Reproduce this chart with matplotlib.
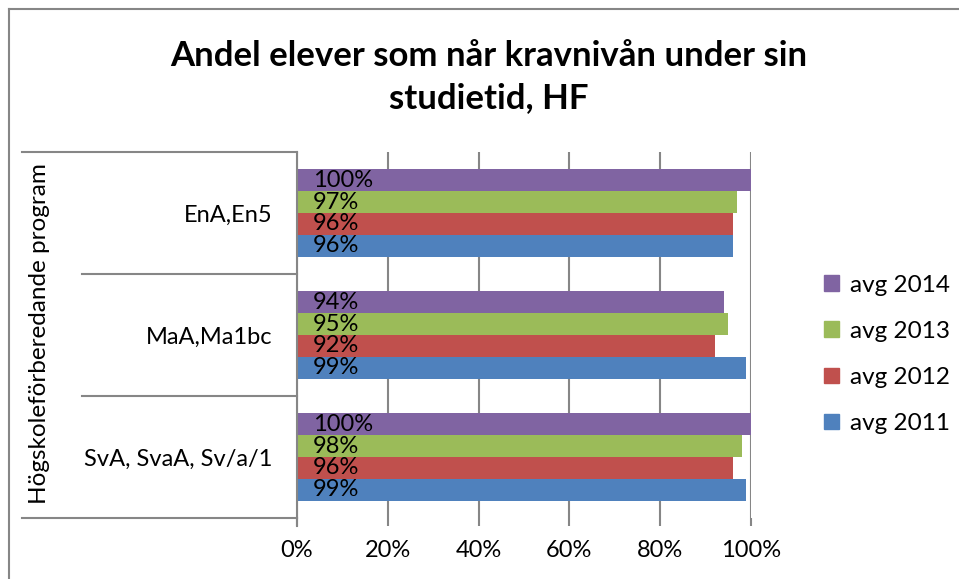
import numpy as np
import matplotlib
matplotlib.use("Agg")
import matplotlib.pyplot as plt
from matplotlib.patches import Patch
from matplotlib.lines import Line2D
import matplotlib.transforms as mtrans

plt.rcParams['font.family'] = ['Lato', 'DejaVu Sans']

# data (bottom to top as drawn)
categories = ["SvA, SvaA, Sv/a/1", "MaA,Ma1bc", "EnA,En5"]
group_label = "Högskoleförberedande program"
series = ["avg 2011", "avg 2012", "avg 2013", "avg 2014"]
avg_2011 = [0.99, 0.99, 0.96]
avg_2012 = [0.96, 0.92, 0.96]
avg_2013 = [0.98, 0.95, 0.97]
avg_2014 = [1.00, 0.94, 1.00]
colors = ["#4F81BD", "#C0504D", "#9BBB59", "#8064A2"]
xticks = [0, 0.2, 0.4, 0.6, 0.8, 1.0]
xticklabels = ["0%", "20%", "40%", "60%", "80%", "100%"]

W, H = 959, 579
fig = plt.figure(figsize=(W / 100, H / 100), dpi=100)

# plot area in pixels
x0, x1, ytop, ybot = 297, 751, 152, 518
ax = fig.add_axes([x0 / W, (H - ybot) / H, (x1 - x0) / W, (ybot - ytop) / H])

grid_c = "#868686"
fs = 17
h = 0.18
y = np.arange(len(categories))
vals = [avg_2011, avg_2012, avg_2013, avg_2014]
for i, (v, c) in enumerate(zip(vals, colors)):
    pos = y + (i - 1.5) * h
    ax.barh(pos, v, height=h, color=c, zorder=2)
    for p, val in zip(pos, v):
        ax.text(0.035, p, f"{val:.0%}", va="center", ha="left",
                fontsize=fs, color="black", zorder=3)

ax.set_xlim(0, 1)
ax.set_ylim(-0.5, 2.5)
ax.set_xticks(xticks)
ax.set_xticklabels(xticklabels, fontsize=fs)
ax.set_yticks(y)
ax.set_yticklabels(categories, fontsize=fs)
ax.tick_params(axis="y", length=0, pad=18)
ax.tick_params(axis="x", direction="out", length=6, color=grid_c, width=1.5, pad=10)
ax.grid(axis="x", color=grid_c, linewidth=1.5, zorder=0)
ax.set_axisbelow(True)
for s in ["top", "right", "bottom"]:
    ax.spines[s].set_visible(False)
ax.spines["left"].set_color(grid_c)
ax.spines["left"].set_linewidth(1.5)

# multi-level category lines on the left
tr = mtrans.blended_transform_factory(ax.transAxes, ax.transData)
far = (22 - x0) / (x1 - x0)
near = (82 - x0) / (x1 - x0)
for yy, xs in [(2.5, far), (1.5, near), (0.5, near), (-0.5, far)]:
    ax.plot([xs, 0], [yy, yy], color=grid_c, linewidth=1.5, transform=tr, clip_on=False)
ax.plot([0, 0], [-0.5, -0.5 - 8 / 122], color=grid_c, linewidth=1.5, transform=tr, clip_on=False)

fig.text(40 / W, (H - 334) / H, group_label, rotation=90, ha="center", va="center", fontsize=fs + 0.5)

# title
fig.text(489 / W, (H - 77) / H, "Andel elever som når kravnivån under sin\nstudietid, HF",
         ha="center", va="center", fontsize=25, fontweight="bold", linespacing=1.35)

# legend
handles = [Patch(color=c, label=s) for c, s in zip(colors[::-1], series[::-1])]
fig.legend(handles=handles, loc="upper left", bbox_to_anchor=(802 / W, (H - 253) / H),
           frameon=False, fontsize=fs + 0.5, handlelength=0.62, handleheight=0.62,
           labelspacing=1.03, handletextpad=0.45)

# chart frame
fig.add_artist(Line2D([9 / W, 1], [(H - 9) / H] * 2, color="#868686", linewidth=1.5))
fig.add_artist(Line2D([9 / W] * 2, [0, (H - 9) / H], color="#868686", linewidth=1.5))

fig.savefig("out.png", dpi=100)
